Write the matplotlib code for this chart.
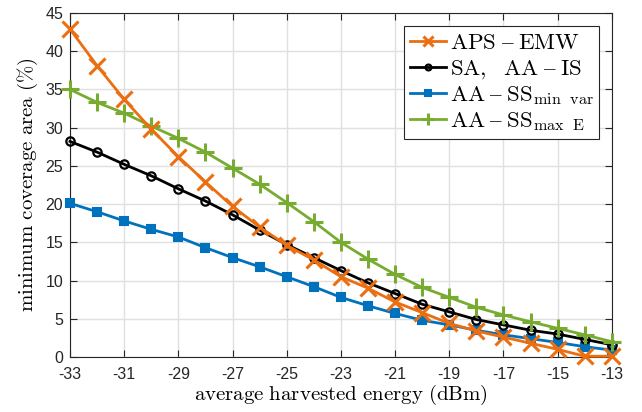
import numpy as np
import matplotlib
matplotlib.use('Agg')
from matplotlib import pyplot as plt

plt.rcParams['mathtext.fontset'] = 'cm'
plt.rcParams['font.family'] = ['Liberation Sans', 'DejaVu Sans']
plt.rcParams['axes.unicode_minus'] = False

energy = list(range(-33, -12))

aps_emw = [42.9, 38.1, 33.7, 29.8, 26.2, 22.9, 19.7, 17.0, 14.6, 12.7, 10.5,
           9.0, 7.2, 5.8, 4.4, 3.4, 2.6, 1.8, 1.0, 0.1, 0.1]
sa_aa_is = [28.2, 26.8, 25.2, 23.7, 22.0, 20.4, 18.6, 16.6, 14.7, 13.0, 11.3,
            9.7, 8.3, 6.9, 5.9, 4.9, 4.2, 3.5, 3.0, 2.3, 1.6]
aa_ss_minvar = [20.1, 19.0, 17.8, 16.7, 15.7, 14.3, 13.0, 11.8, 10.5, 9.2, 7.8,
                6.7, 5.7, 4.8, 4.2, 3.5, 2.9, 2.4, 1.9, 1.35, 0.9]
aa_ss_maxe = [35.0, 33.3, 31.9, 30.2, 28.6, 26.8, 24.7, 22.6, 20.2, 17.7, 15.0,
              12.8, 10.8, 9.1, 7.8, 6.5, 5.5, 4.6, 3.75, 2.9, 2.0]

dash = r'\;\mathrm{–}\;'
labels = [r'$\mathrm{APS}' + dash + r'\mathrm{EMW}$',
          r'$\mathrm{SA,\ \ AA}' + dash + r'\mathrm{IS}$',
          r'$\mathrm{AA}' + dash + r'\mathrm{SS}_{\mathrm{min\ \ var}}$',
          r'$\mathrm{AA}' + dash + r'\mathrm{SS}_{\mathrm{max\ \ E}}$']

fig = plt.figure(figsize=(6.42, 4.12), dpi=100)
ax = fig.add_axes([0.109, 0.1335, 0.844, 0.835])

lw = 2.0
ax.plot(energy, aps_emw, color='#EB6E10', lw=lw, marker='x', ms=11, mew=2.2, label=labels[0], zorder=5, clip_on=False)
ax.plot(energy, sa_aa_is, color='black', lw=lw, marker='o', ms=6, mew=1.6, mfc='none', label=labels[1], zorder=4, clip_on=False)
ax.plot(energy, aa_ss_minvar, color='#0072BD', lw=lw, marker='s', ms=6, mew=1.5, label=labels[2], zorder=3, clip_on=False)
ax.plot(energy, aa_ss_maxe, color='#77AC30', lw=lw, marker='+', ms=13, mew=2.2, label=labels[3], zorder=4, clip_on=False)

ax.set_xlim(-33, -13)
ax.set_ylim(0, 45)
ax.set_xticks(np.arange(-33, -12, 2))
ax.set_yticks(np.arange(0, 46, 5))
ax.grid(True, color='#E0E0E0', lw=1.0)
ax.set_axisbelow(True)
ax.tick_params(direction='in', top=True, right=True, labelsize=11.5, length=5, width=0.8, colors='#262626')
ax.tick_params(axis='x', pad=7)
ax.tick_params(axis='y', pad=5)
for s in ax.spines.values():
    s.set_color('#262626')
    s.set_linewidth(0.8)

ax.set_xlabel(r'$\mathrm{average\ harvested\ energy\ (dBm)}$', fontsize=15, labelpad=1)
ax.set_ylabel(r'$\mathrm{minimum\ coverage\ area\ (\%)}$', fontsize=15, labelpad=4)

leg = ax.legend(loc='upper right', fontsize=16.5, fancybox=False, framealpha=1,
                edgecolor='#262626', handlelength=1.6, handletextpad=0.15,
                borderpad=0.25, labelspacing=0.1, borderaxespad=0.55, markerscale=0.7)
leg.get_frame().set_linewidth(0.8)
leg.set_zorder(10)

fig.savefig('out.png', dpi=100)
